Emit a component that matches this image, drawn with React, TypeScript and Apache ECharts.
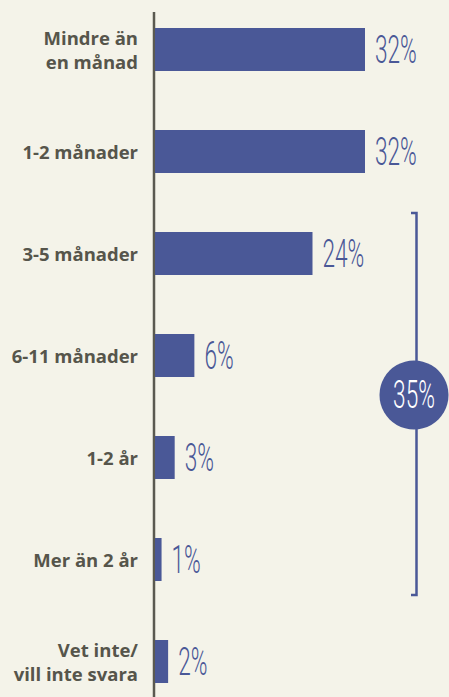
import React, { useEffect, useRef } from "react";
import * as echarts from "echarts";

const categories = [
  "Mindre än\nen månad",
  "1-2 månader",
  "3-5 månader",
  "6-11 månader",
  "1-2 år",
  "Mer än 2 år",
  "Vet inte/\nvill inte svara",
];
const values = [32, 32, 24, 6, 3, 1, 2];
const bracketTotal = "35%";

const BAR = "#4a5897";
const BG = "#f4f3e9";
const TEXT = "#56554b";
const NUMFONT = "Roboto, sans-serif";

export default function App() {
  const ref = useRef<HTMLDivElement>(null);
  useEffect(() => {
    if (!ref.current) return;
    const chart = echarts.init(ref.current, null, { renderer: "svg" });
    chart.setOption({
      animation: false,
      backgroundColor: BG,
      grid: {
        left: 155,
        width: 262.5,
        top: -1.5,
        height: 714,
        containLabel: false,
        outerBoundsMode: "none",
      },
      xAxis: { type: "value", min: 0, max: 40, show: false },
      yAxis: {
        type: "category",
        data: categories,
        inverse: true,
        axisLine: { show: false },
        axisTick: { show: false },
        splitLine: { show: false },
        axisLabel: {
          margin: 17,
          color: TEXT,
          fontFamily: "'Open Sans', sans-serif",
          fontWeight: "bold",
          fontSize: 18.5,
          lineHeight: 24,
          align: "right",
        },
      },
      series: [
        {
          type: "bar",
          data: values,
          barWidth: 43,
          itemStyle: { color: BAR },
        },
        {
          type: "custom",
          data: values.map((v, i) => [v, i]),
          encode: { x: 0, y: 1 },
          renderItem: (params: any, api: any) => {
            const v = api.value(0);
            const p = api.coord([v, api.value(1)]);
            return {
              type: "text",
              x: p[0] + 10,
              y: p[1],
              scaleX: 0.58,
              style: {
                text: v + "%",
                fill: BAR,
                fontFamily: NUMFONT,
                fontWeight: 300,
                fontSize: 39,
                align: "left",
                verticalAlign: "middle",
              },
            };
          },
        },
      ],
      graphic: [
        {
          type: "line",
          shape: { x1: 154, y1: 12, x2: 154, y2: 697 },
          style: { stroke: "#5a5950", lineWidth: 2.5 },
        },
        {
          type: "polyline",
          shape: { points: [[411, 213], [416.5, 213], [416.5, 595], [411, 595]] },
          style: { stroke: BAR, lineWidth: 2.5, fill: "none" },
        },
        {
          type: "circle",
          shape: { cx: 414, cy: 395, r: 34.5 },
          style: { fill: BAR },
        },
        {
          type: "text",
          x: 414,
          y: 395,
          scaleX: 0.58,
          style: {
            text: bracketTotal,
            fill: "#ffffff",
            fontFamily: NUMFONT,
            fontWeight: 300,
            fontSize: 39,
            align: "center",
            verticalAlign: "middle",
          },
        },
      ],
    });
    return () => chart.dispose();
  }, []);
  return (
    <div
      ref={ref}
      style={{ position: "absolute", left: 0, top: 0, width: 449, height: 697 }}
    />
  );
}
